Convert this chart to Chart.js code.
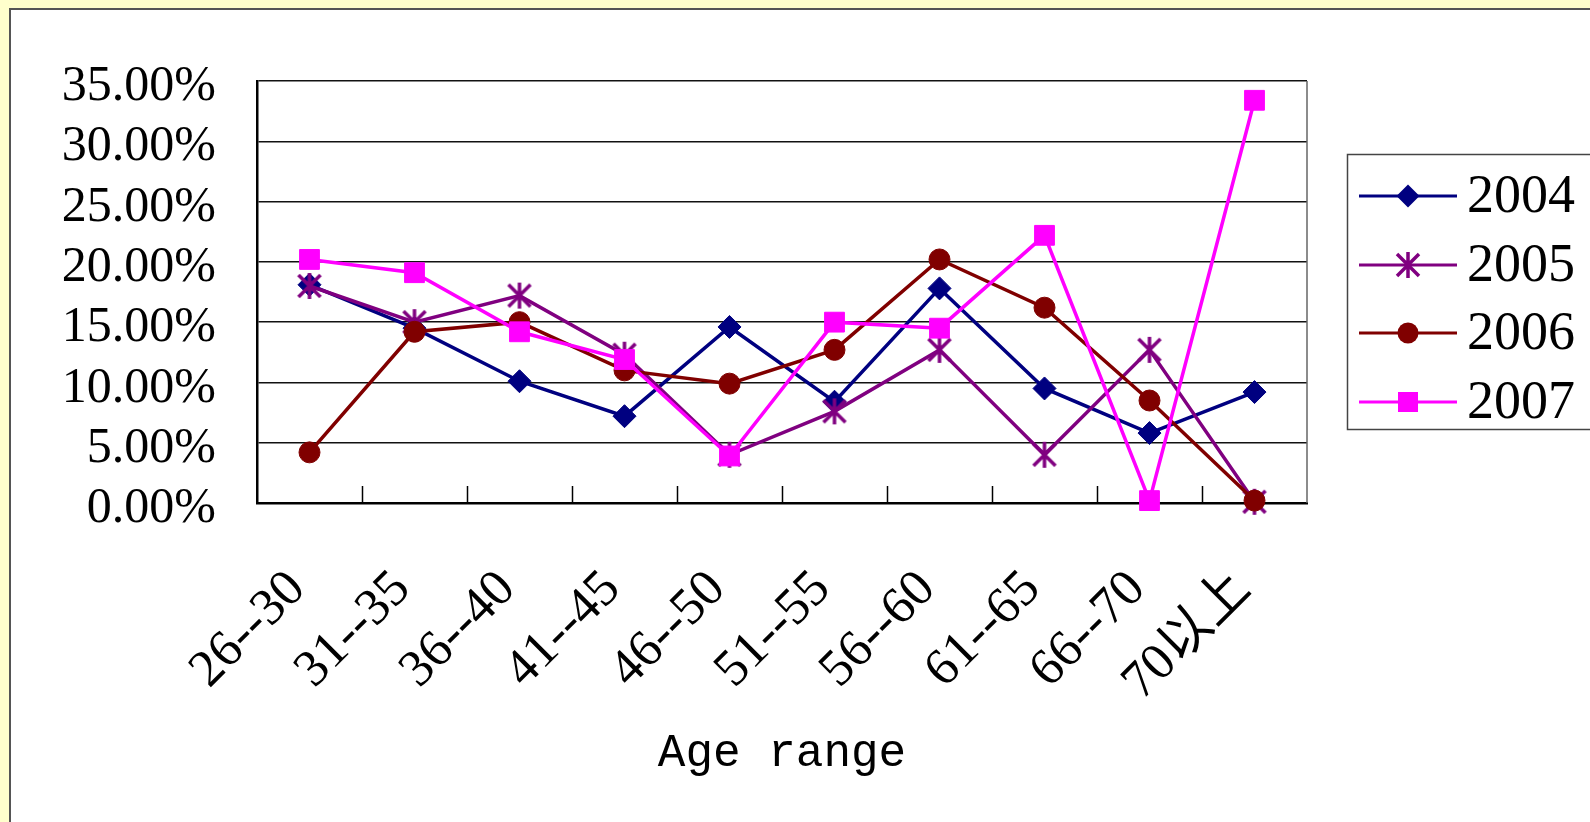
<!DOCTYPE html>
<html>
<head>
<meta charset="utf-8">
<script src="https://cdn.jsdelivr.net/npm/chart.js@4"></script>
<style>
  body { margin: 0; background: #ffffcc; overflow: hidden; }
  #frame { position: absolute; left: 9px; top: 8px; width: 1600px; height: 840px; border: 2px solid #555; background: #fff; }
  canvas { display: block; }
</style>
</head>
<body>
<div id="frame">
  <canvas id="MyChart" width="1579" height="812" style="width:1579px;height:812px"></canvas>
</div>
<script>
// age groups on the x axis
let ageGroups = ['26--30', '31--35', '36--40', '41--45', '46--50', '51--55', '56--60', '61--65', '66--70', '70以上'];
let years = ['2004', '2005', '2006', '2007'];

// share of each age group, in percent
let y2004 = [18.1, 14.5, 10.1, 7.2, 14.6, 8.4, 17.8, 9.5, 5.8, 9.2];
let y2005 = [18.0, 15.0, 17.2, 12.3, 4.0, 7.6, 12.7, 4.0, 12.7, 0.1];
let y2006 = [4.2, 14.2, 15.0, 11.0, 9.9, 12.7, 20.2, 16.2, 8.5, 0.2];
let y2007 = [20.2, 19.1, 14.2, 11.9, 3.9, 15.0, 14.5, 22.2, 0.2, 33.4];

let colors = ['#000080', '#800080', '#800000', '#ff00ff'];

// excel style asterisk marker (vertical bar + x)
function makeStar(color, size, lw) {
  var c = document.createElement('canvas');
  c.width = size;
  c.height = size;
  var g = c.getContext('2d');
  g.strokeStyle = color;
  g.lineWidth = lw;
  var m = size / 2;
  var p = 3;
  g.beginPath();
  g.moveTo(m, 1); g.lineTo(m, size - 1);
  g.moveTo(p, p); g.lineTo(size - p, size - p);
  g.moveTo(size - p, p); g.lineTo(p, size - p);
  g.stroke();
  return c;
}
var star = makeStar(colors[1], 28, 3.5);

function drawMarker(ctx, i, x, y) {
  ctx.fillStyle = colors[i];
  ctx.beginPath();
  if (i == 0) {
    var r = 11.5;
    ctx.moveTo(x - r, y); ctx.lineTo(x, y - r); ctx.lineTo(x + r, y); ctx.lineTo(x, y + r);
    ctx.closePath();
    ctx.fill();
  } else if (i == 1) {
    ctx.drawImage(star, x - 14, y - 14);
  } else if (i == 2) {
    ctx.arc(x, y, 10.5, 0, Math.PI * 2);
    ctx.fill();
  } else {
    ctx.fillRect(x - 10, y - 10, 20, 20);
  }
}

// inner tick marks, right border and the boxed legend
var extras = {
  id: 'extras',
  afterDraw: function (chart) {
    var ctx = chart.ctx;
    var a = chart.chartArea;
    var x = chart.scales.x;
    ctx.save();
    ctx.strokeStyle = '#000';
    ctx.lineWidth = 1.5;
    ctx.beginPath();
    for (var i = 0; i < ageGroups.length - 1; i++) {
      var px = Math.round((x.getPixelForValue(i) + x.getPixelForValue(i + 1)) / 2) + 0.5;
      ctx.moveTo(px, a.bottom);
      ctx.lineTo(px, a.bottom - 17);
    }
    ctx.stroke();
    ctx.strokeStyle = '#666';
    ctx.beginPath();
    ctx.moveTo(a.right, a.top);
    ctx.lineTo(a.right, a.bottom);
    ctx.stroke();

    // legend
    ctx.strokeStyle = '#444';
    ctx.lineWidth = 1.5;
    ctx.strokeRect(1336.5, 144.5, 300, 275);
    var rows = [186, 255, 323, 392];
    ctx.font = '54px "Liberation Serif", serif';
    ctx.textBaseline = 'middle';
    for (var j = 0; j < years.length; j++) {
      ctx.strokeStyle = colors[j];
      ctx.lineWidth = 3;
      ctx.beginPath();
      ctx.moveTo(1348, rows[j]);
      ctx.lineTo(1446, rows[j]);
      ctx.stroke();
      drawMarker(ctx, j, 1397, rows[j]);
      ctx.fillStyle = '#000';
      ctx.fillText(years[j], 1456, rows[j] + 2);
    }
    ctx.restore();
  }
};

var ctx = document.getElementById('MyChart').getContext('2d');
var chartObject = new Chart(ctx, {
  type: 'line',
  data: {
    labels: ageGroups,
    datasets: [
      { label: years[0], data: y2004, borderColor: colors[0], backgroundColor: colors[0], borderWidth: 3.5, pointStyle: 'rectRot', pointRadius: 11.5, order: 4 },
      { label: years[1], data: y2005, borderColor: colors[1], backgroundColor: colors[1], borderWidth: 3.5, pointStyle: star, pointRadius: 14, order: 3 },
      { label: years[2], data: y2006, borderColor: colors[2], backgroundColor: colors[2], borderWidth: 3.5, pointStyle: 'circle', pointRadius: 10.5, order: 2 },
      { label: years[3], data: y2007, borderColor: colors[3], backgroundColor: colors[3], borderWidth: 3.5, pointStyle: 'rect', pointRadius: 14, order: 1 },
    ]
  },
  options: {
    responsive: false,
    animation: false,
    clip: false,
    datasets: {
      line: { pointBorderWidth: 1, tension: 0 }
    },
    layout: {
      padding: { top: 71, right: 283, bottom: 0, left: 0 }
    },
    plugins: {
      legend: { display: false },
      tooltip: { enabled: false }
    },
    scales: {
      x: {
        offset: true,
        grid: { display: false },
        border: { color: '#000', width: 2.5 },
        ticks: {
          autoSkip: false,
          minRotation: 45,
          maxRotation: 45,
          padding: 48,
          labelOffset: -12,
          color: '#000',
          font: { family: '"Liberation Serif", "Noto Sans CJK SC", serif', size: 52 }
        },
        title: {
          display: true,
          text: 'Age range',
          color: '#000',
          padding: { top: 0, bottom: 41 },
          font: { family: '"Liberation Mono", monospace', size: 46 }
        },
        afterFit: function (scale) { scale.height = 319; }
      },
      y: {
        min: 0,
        max: 35,
        grid: { color: '#111', lineWidth: 1.5, drawTicks: false },
        border: { color: '#000', width: 2.5 },
        ticks: {
          autoSkip: false,
          stepSize: 5,
          padding: 41,
          labelOffset: 6,
          color: '#000',
          font: { family: '"Liberation Serif", serif', size: 50 },
          callback: function (v) { return v.toFixed(2) + '%'; }
        },
        afterFit: function (scale) { scale.width = 246; }
      }
    }
  },
  plugins: [extras]
});
</script>
</body>
</html>
